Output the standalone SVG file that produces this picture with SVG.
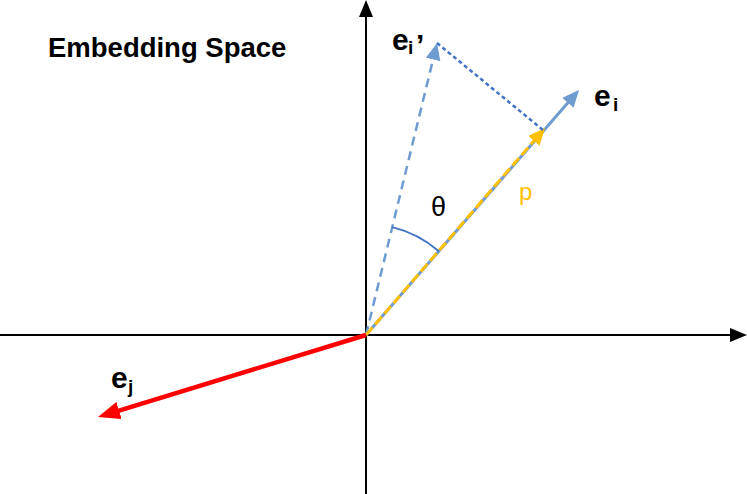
<svg xmlns="http://www.w3.org/2000/svg" width="747" height="494" viewBox="0 0 747 494">
<style>
text{font-family:"Liberation Sans",Arial,sans-serif}
.lbl{font-weight:bold;font-size:30px;fill:#000}
.sub{font-weight:bold;font-size:19px;fill:#000}
.axis{stroke:#000;stroke-width:2;fill:none}
</style>
<defs>
<marker id="arrBlack" viewBox="0 0 17 14" markerWidth="17" markerHeight="14" markerUnits="userSpaceOnUse" refX="4" refY="7" orient="auto"><path d="M0,0 L17,7 L0,14 z" fill="#000"/></marker>
<marker id="arrBlue" viewBox="0 0 17 15" markerWidth="17" markerHeight="15" markerUnits="userSpaceOnUse" refX="4" refY="7.5" orient="auto"><path d="M0,0 L17,7.5 L0,15 z" fill="#6E9BD0"/></marker>
<marker id="arrYellow" viewBox="0 0 17 15" markerWidth="17" markerHeight="15" markerUnits="userSpaceOnUse" refX="4" refY="7.5" orient="auto"><path d="M0,0 L17,7.5 L0,15 z" fill="#FFC000"/></marker>
<marker id="arrRed" viewBox="0 0 22 18" markerWidth="22" markerHeight="18" markerUnits="userSpaceOnUse" refX="6" refY="9" orient="auto"><path d="M0,0 L22,9 L0,18 z" fill="#FF0000"/></marker>
</defs>
<g id="title"><text x="48" y="57" font-size="27.5" font-weight="bold">Embedding Space</text></g>
<g id="connectors">
<line id="x-axis" class="axis" x1="0" y1="335" x2="734" y2="335" marker-end="url(#arrBlack)"/>
<line id="y-axis" class="axis" x1="366" y1="494" x2="366" y2="13" marker-end="url(#arrBlack)"/>
<line id="ei-vec" x1="366" y1="335" x2="570.5" y2="99.8" stroke="#6E9BD0" stroke-width="3" marker-end="url(#arrBlue)"/>
<line id="ei-prime-vec" x1="366" y1="335" x2="434" y2="55.6" stroke="#6E9BD0" stroke-width="2.5" stroke-dasharray="9 6" marker-end="url(#arrBlue)"/>
<line id="p-vec" x1="366" y1="335" x2="536.5" y2="137.8" stroke="#FFC000" stroke-width="3" stroke-dasharray="10 4" marker-end="url(#arrYellow)"/>
<line id="proj" x1="437" y1="43" x2="543" y2="130" stroke="#4472C4" stroke-width="2.5" stroke-dasharray="4 3"/>
<path id="theta-arc" d="M392.2,227.1 A111,111 0 0,1 438.8,251.2" fill="none" stroke="#4472C4" stroke-width="2"/>
<line id="ej-vec" x1="366" y1="335" x2="113.3" y2="412.3" stroke="#FF0000" stroke-width="4.5" marker-end="url(#arrRed)"/>
</g>
<g id="label-ei-prime"><text class="lbl" x="392" y="50">e</text><text class="sub" x="408" y="54">i</text><text class="lbl" x="416" y="55">’</text></g>
<g id="label-ei"><text class="lbl" x="594" y="106">e</text><text class="sub" x="613" y="111">i</text></g>
<g id="label-ej"><text class="lbl" x="111" y="388">e</text><text class="sub" x="128" y="393">j</text></g>
<g id="label-theta"><text x="431" y="216" font-size="27" fill="#000">θ</text></g>
<g id="label-p"><text x="519" y="200" font-size="24" fill="#FFC000">p</text></g>
</svg>
